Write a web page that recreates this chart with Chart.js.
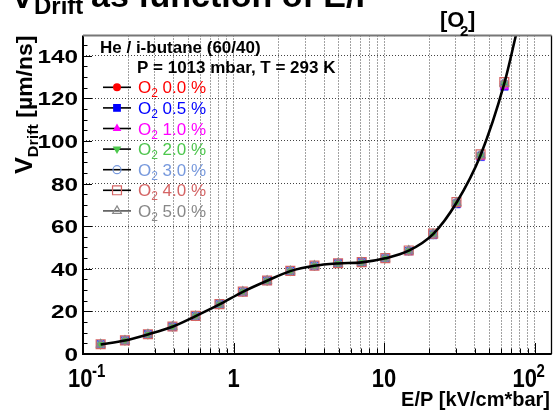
<!DOCTYPE html>
<html><head><meta charset="utf-8">
<script src="https://cdn.jsdelivr.net/npm/chart.js@4/dist/chart.umd.min.js"></script>
<style>html,body{margin:0;padding:0;background:#fff}#wrap{width:559px;height:414px;position:relative}</style>
</head><body><div id="wrap"><canvas id="c" width="559" height="414"></canvas></div>
<script>
// ---- data ----
const epValues = [0.131,0.190,0.270,0.393,0.560,0.807,1.153,1.672,2.385,3.45,4.95,7.11,10.2,14.6,21.2,30.3,43.8,63.0];
const vO2_00 = [4.5,6.3,9.2,12.8,17.8,23.3,29.2,34.4,38.9,41.4,42.5,43.0,44.9,48.5,56.3,71.0,93.3,127.0];
const vO2_05 = [4.5,6.3,9.2,12.8,17.8,23.3,29.2,34.4,38.9,41.4,42.5,43.0,44.8,48.3,55.9,70.4,92.6,125.6];
const vO2_10 = [4.5,6.3,9.2,12.8,17.8,23.3,29.2,34.4,38.9,41.4,42.5,43.0,44.8,48.3,55.9,70.3,92.4,125.4];
const vO2_20 = [4.5,6.3,9.2,12.8,17.8,23.3,29.2,34.4,38.9,41.4,42.5,43.0,44.9,48.5,56.2,70.9,93.2,126.8];
const vO2_30 = [4.5,6.3,9.2,12.8,17.8,23.3,29.2,34.4,38.9,41.4,42.5,43.0,44.9,48.5,56.3,71.0,93.4,127.0];
const vO2_40 = [4.6,6.4,9.3,12.9,17.9,23.4,29.3,34.5,39.0,41.5,42.6,43.1,45.0,48.6,56.5,71.3,93.7,127.6];
const vO2_50 = [4.5,6.3,9.2,12.8,17.8,23.3,29.2,34.4,38.9,41.4,42.5,43.0,44.9,48.5,56.3,71.0,93.3,127.1];
const fitEp = [0.131,0.190,0.270,0.393,0.560,0.807,1.153,1.672,2.385,3.45,4.95,7.11,10.2,14.6,21.2,30.3,43.8,63.0,75.2];
const fitV  = [4.5,6.3,9.2,12.8,17.8,23.3,29.2,34.4,38.9,41.4,42.5,43.0,44.9,48.5,56.3,71.0,93.3,127.0,149.5];
const seriesLabels = ['0.0 %','0.5 %','1.0 %','2.0 %','3.0 %','4.0 %','5.0 %'];
const xGridValues = [0.1,0.2,0.3,0.4,0.5,0.6,0.7,0.8,0.9,1,2,3,4,5,6,7,8,9,10,20,30,40,50,60,70,80,90,100];
const xLabelValues = [0.1,1,10,100];
const yTickValues = [0,20,40,60,80,100,120,140];
const titleMain = 'V';
const titleSub = 'Drift';
const titleRest = 'as function of E/P';
const xTitle = 'E/P [kV/cm*bar]';
const yTitleSub = 'Drift';
const yTitleRest = ' [\u00b5m/ns]';
const legendHead1 = 'He / i-butane (60/40)';
const legendHead2 = 'P = 1013 mbar, T = 293 K';

const seriesValues = [vO2_00,vO2_05,vO2_10,vO2_20,vO2_30,vO2_40,vO2_50];
const styles = [
  {color:'#ff0000', shape:'circle', fill:true, r:4},
  {color:'#0000ff', shape:'rect', fill:true, r:5.5},
  {color:'#ff00ff', shape:'triangle', fill:true, r:5},
  {color:'#4cc84c', shape:'triangleDown', fill:true, r:5},
  {color:'#7799dd', shape:'circle', fill:false, r:4},
  {color:'#d46464', shape:'rect', fill:false, r:6.3},
  {color:'#888888', shape:'triangle', fill:false, r:5}
];

const datasets = [{
  label:'fit', data: fitEp.map((x,i)=>({x:x,y:fitV[i]})), showLine:true,
  borderColor:'#000', borderWidth:2.6, pointRadius:0, cubicInterpolationMode:'monotone', order:0, fill:false
}];
seriesValues.forEach((vals,k)=>{
  const s = styles[k];
  datasets.push({
    label: seriesLabels[k],
    data: epValues.map((x,i)=>({x:x,y:vals[i]})),
    showLine:false,
    pointStyle: s.shape==='triangleDown' ? 'triangle' : s.shape,
    rotation: s.shape==='triangleDown' ? 180 : 0,
    pointRadius: s.r,
    pointBorderWidth: s.fill ? 0.5 : 1.2,
    borderColor: s.color,
    backgroundColor: s.fill ? s.color : 'rgba(0,0,0,0)',
    pointBackgroundColor: s.fill ? s.color : 'rgba(0,0,0,0)',
    pointBorderColor: s.color,
    order: 7-k
  });
});

function drawMarker(ctx, s, x, y){
  ctx.save();
  ctx.fillStyle = s.color; ctx.strokeStyle = s.color; ctx.lineWidth = 1.2;
  ctx.beginPath();
  const r = s.r;
  if (s.shape==='circle'){ ctx.arc(x,y,r,0,Math.PI*2); }
  else if (s.shape==='rect'){ const h=r*Math.SQRT1_2; ctx.rect(x-h,y-h,2*h,2*h); }
  else if (s.shape==='triangle'){ ctx.moveTo(x,y-r); ctx.lineTo(x+r*0.866,y+r*0.5); ctx.lineTo(x-r*0.866,y+r*0.5); ctx.closePath(); }
  else { ctx.moveTo(x,y+r); ctx.lineTo(x+r*0.866,y-r*0.5); ctx.lineTo(x-r*0.866,y-r*0.5); ctx.closePath(); }
  if (s.fill) ctx.fill(); else ctx.stroke();
  ctx.restore();
}

function scaledText(ctx, txt, x, y, font, sx, sy, align){
  ctx.save();
  ctx.font = font; ctx.textAlign = align||'left'; ctx.textBaseline='alphabetic';
  ctx.translate(x,y); ctx.scale(sx,sy); ctx.fillText(txt,0,0);
  ctx.restore();
}

const FONT = '"Liberation Sans", Arial, Helvetica, sans-serif';

const decor = {
  id:'decor',
  afterDraw(chart){
    const ctx = chart.ctx;
    const xs = chart.scales.x, ys = chart.scales.y;
    const a = chart.chartArea;
    ctx.save();
    // frame
    ctx.strokeStyle='#000';
    ctx.lineWidth=2; ctx.beginPath(); ctx.moveTo(a.left,a.top); ctx.lineTo(a.left,a.bottom); ctx.lineTo(a.right,a.bottom); ctx.stroke();
    ctx.lineWidth=1.3; ctx.beginPath(); ctx.moveTo(a.right,a.bottom); ctx.lineTo(a.right,a.top); ctx.stroke();
    ctx.strokeStyle='#777'; ctx.lineWidth=2; ctx.beginPath(); ctx.moveTo(a.left,a.top); ctx.lineTo(a.right,a.top); ctx.stroke();
    // y ticks (inside)
    ctx.strokeStyle='#000'; ctx.lineWidth=1;
    for (let v=0; v<=ys.max; v+=5){
      const py = Math.round(ys.getPixelForValue(v))+0.5;
      const len = (v%20===0)?9:4.5;
      ctx.beginPath(); ctx.moveTo(a.left,py); ctx.lineTo(a.left+len,py); ctx.stroke();
    }
    // x ticks (inside)
    xGridValues.forEach(v=>{
      const px = Math.round(xs.getPixelForValue(v))+0.5;
      const major = xLabelValues.includes(v);
      const len = major?11:5.5;
      ctx.beginPath(); ctx.moveTo(px,a.bottom); ctx.lineTo(px,a.bottom-len); ctx.stroke();
    });
    // y tick labels
    ctx.fillStyle='#000';
    yTickValues.forEach(v=>{
      const py = ys.getPixelForValue(v);
      scaledText(ctx, String(v), a.left-5, py+7, 'bold 18px '+FONT, 1.35, 1.0, 'right');
    });
    // x tick labels
    xLabelValues.forEach(v=>{
      const px = xs.getPixelForValue(v);
      const base = 387;
      if (v===0.1){
        scaledText(ctx,'10',px-15,base,'bold 22px '+FONT,1,1.2,'left');
        scaledText(ctx,'-1',px+9,base-10,'bold 15px '+FONT,1,1.2,'left');
      } else if (v===100){
        scaledText(ctx,'10',px-22,base,'bold 22px '+FONT,1,1.2,'left');
        scaledText(ctx,'2',px+2,base-10,'bold 15px '+FONT,1,1.2,'left');
      } else {
        scaledText(ctx,String(v),px,base,'bold 22px '+FONT,1,1.2,'center');
      }
    });
    // axis titles
    scaledText(ctx,xTitle,550,406,'bold 20px '+FONT,1,1,'right');
    ctx.save();
    ctx.translate(32,a.top); ctx.rotate(-Math.PI/2); ctx.scale(1.15,1.1);
    ctx.font='bold 20px '+FONT;
    const wRest = ctx.measureText(yTitleRest).width;
    ctx.font='bold 14px '+FONT;
    const wSub = ctx.measureText(yTitleSub).width;
    ctx.font='bold 22px '+FONT;
    const wV = ctx.measureText('V').width;
    let tx = -(wRest+wSub+wV);
    ctx.textAlign='left';
    ctx.fillText('V',tx,0); tx+=wV;
    ctx.font='bold 14px '+FONT; ctx.fillText(yTitleSub,tx,5); tx+=wSub;
    ctx.font='bold 20px '+FONT; ctx.fillText(yTitleRest,tx,0);
    ctx.restore();
    // main title (cut at top)
    ctx.font='bold 34px '+FONT; ctx.textAlign='left';
    ctx.fillText(titleMain,11,8);
    ctx.font='bold 24px '+FONT; ctx.fillText(titleSub,34,14);
    ctx.font='bold 34px '+FONT; ctx.fillText(titleRest,91,7);
    // [O2]
    ctx.font='bold 22px '+FONT; ctx.fillText('[O',440,27);
    ctx.font='bold 15px '+FONT; ctx.fillText('2',460,36);
    ctx.font='bold 22px '+FONT; ctx.fillText(']',468,27);
    // legend header
    ctx.font='bold 17px '+FONT; ctx.fillText(legendHead1,100,52.5);
    ctx.font='bold 17px '+FONT; ctx.fillText(legendHead2,137,72.5);
    // legend entries
    styles.forEach((s,k)=>{
      const y = 87.3 + k*20.6;
      ctx.strokeStyle = k===6 ? '#555' : '#000'; ctx.lineWidth=1.6;
      ctx.beginPath(); ctx.moveTo(103,y); ctx.lineTo(131,y); ctx.stroke();
      drawMarker(ctx,s,117,y);
      ctx.fillStyle = s.color;
      ctx.font='17px '+FONT; ctx.fillText('O',138,y+6);
      const wO = ctx.measureText('O').width;
      ctx.font='12px '+FONT; ctx.fillText('2',138+wO,y+10);
      const w2 = ctx.measureText('2').width;
      ctx.font='17px '+FONT; ctx.fillText(' '+seriesLabels[k],138+wO+w2,y+6);
    });
    ctx.restore();
  }
};

new Chart(document.getElementById('c'), {
  type:'scatter',
  data:{datasets:datasets},
  options:{
    responsive:false, animation:false, devicePixelRatio:1,
    layout:{padding:{left:0,top:35.5,right:6,bottom:0}},
    plugins:{legend:{display:false}, tooltip:{enabled:false}, title:{display:false}},
    scales:{
      x:{type:'logarithmic', min:0.1, max:129.7,
        afterBuildTicks:(sc)=>{ sc.ticks = xGridValues.map(v=>({value:v})); },
        afterFit:(sc)=>{ sc.height = 60; },
        ticks:{display:false},
        grid:{color:'#444', lineWidth:1, drawTicks:false},
        border:{display:false, dash:[1,2]}
      },
      y:{type:'linear', min:0, max:149.5,
        afterBuildTicks:(sc)=>{ sc.ticks = yTickValues.map(v=>({value:v})); },
        afterFit:(sc)=>{ sc.width = 83; },
        ticks:{display:false},
        grid:{color:'#444', lineWidth:1, drawTicks:false},
        border:{display:false, dash:[1,2]}
      }
    }
  },
  plugins:[decor]
});
</script>
</body></html>
